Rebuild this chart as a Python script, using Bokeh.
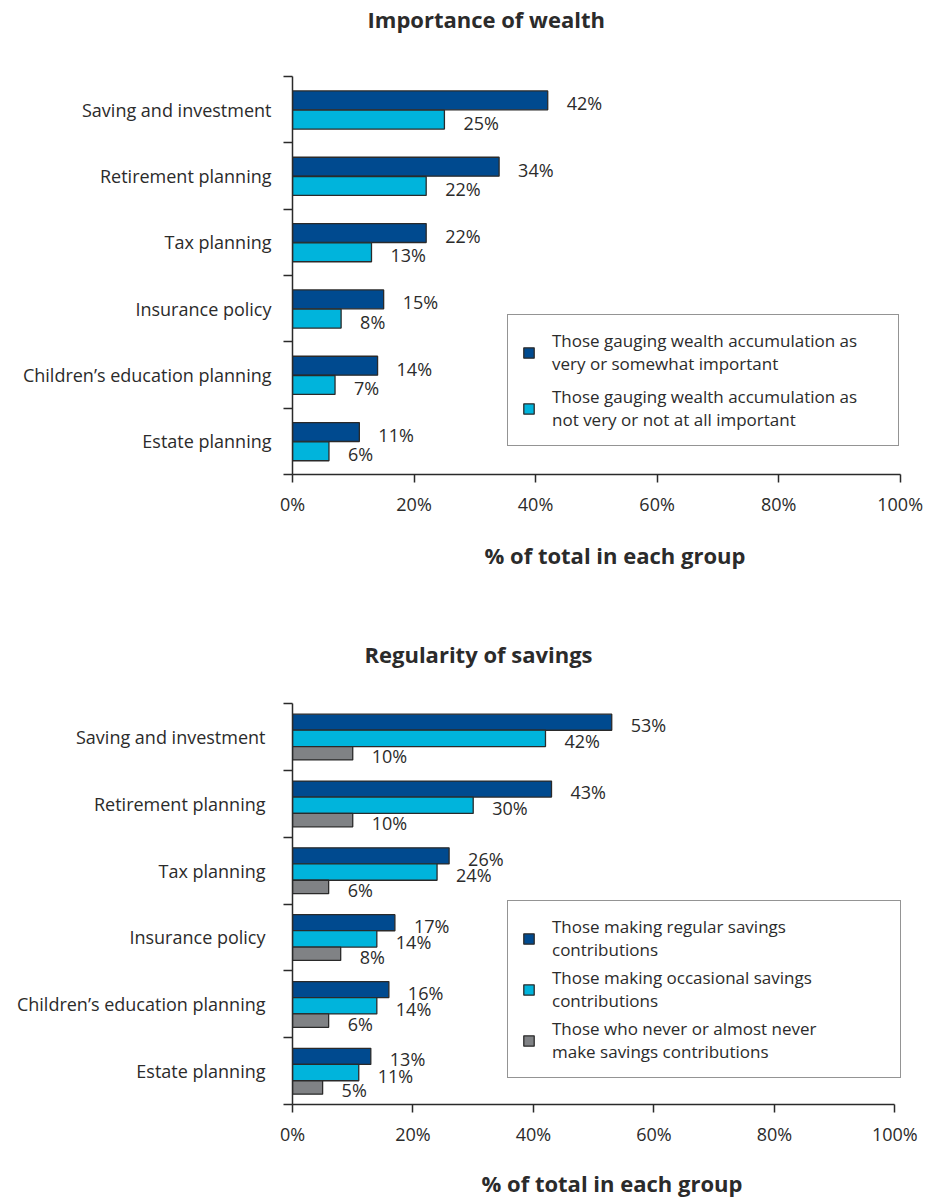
from bokeh.plotting import figure
from bokeh.models import (Range1d, FixedTicker, PrintfTickFormatter, Legend, LegendItem,
                          Title, LinearAxis)
from bokeh.layouts import column
from bokeh.core.properties import value
from bokeh.embed import file_html
from bokeh.resources import INLINE

# ---------------- data ----------------
categories = ["Saving and investment", "Retirement planning", "Tax planning",
              "Insurance policy", "Children\u2019s education planning", "Estate planning"]

wealth_important = [42, 34, 22, 15, 14, 11]
wealth_not_important = [25, 22, 13, 8, 7, 6]

savings_regular = [53, 43, 26, 17, 16, 13]
savings_occasional = [42, 30, 24, 14, 14, 11]
savings_never = [10, 10, 6, 8, 6, 5]

x_ticks = [0, 20, 40, 60, 80, 100]

title_top = "Importance of wealth"
title_bottom = "Regularity of savings"
x_title = "% of total in each group"

legend_top = ["Those gauging wealth accumulation as\nvery or somewhat important",
              "Those gauging wealth accumulation as\nnot very or not at all important"]
legend_bottom = ["Those making regular savings\ncontributions",
                 "Those making occasional savings\ncontributions",
                 "Those who never or almost never\nmake savings contributions"]

# ---------------- style ----------------
DARK = "#004A8F"
CYAN = "#00B4DC"
GREY = "#808285"
EDGE = "#2A2A2A"
TXT = "#2B2B2B"
FONT = "Open Sans"


def spacer(size):
    # an invisible axis used only to reserve vertical space in a side panel
    return LinearAxis(ticker=FixedTicker(ticks=[x_ticks[0]]), axis_line_color=None,
                      major_tick_line_color=None, minor_tick_line_color=None,
                      major_tick_out=size, major_tick_in=0, minor_tick_out=0,
                      minor_tick_in=0, major_label_standoff=0,
                      major_label_overrides={x_ticks[0]: ""},
                      major_label_text_font_size="1px", major_label_text_alpha=0)


def make_chart(title, series, width, height, borders, x_end, title_offset, title_space,
               xtitle_offset, xtitle_space, legend_loc, legend_spacing, label_width,
               ylabel_standoff):
    left, right, top, bottom = borders
    n = len(categories)
    p = figure(width=width, height=height, output_backend="svg", toolbar_location=None,
               x_range=Range1d(0, x_end), y_range=Range1d(0, n),
               min_border_left=left, min_border_right=right,
               min_border_top=top, min_border_bottom=bottom)
    p.outline_line_color = None
    p.xgrid.visible = False
    p.ygrid.visible = False
    p.background_fill_color = "white"
    p.border_fill_color = "white"

    items = []
    for vals, color, lab, off, h in series:
        ys = [n - 0.5 - i + off for i in range(n)]
        r = p.hbar(y=ys, right=vals, left=0, height=h, fill_color=color,
                   line_color=EDGE, line_width=1.3)
        p.text(x=vals, y=ys, text=[f"{v}%" for v in vals], x_offset=19, y_offset=3,
               text_baseline="middle", text_align="left", text_font=value(FONT),
               text_font_size="18px", text_color=TXT)
        items.append(LegendItem(label=lab, renderers=[r]))

    # x axis
    xa = p.xaxis[0]
    xa.ticker = FixedTicker(ticks=x_ticks)
    xa.bounds = (x_ticks[0], x_ticks[-1])
    xa.formatter = PrintfTickFormatter(format="%d%%")
    xa.axis_line_color = EDGE
    xa.axis_line_width = 1.5
    xa.major_tick_line_color = EDGE
    xa.major_tick_line_width = 1.5
    xa.major_tick_out = 8
    xa.major_tick_in = 0
    xa.minor_tick_line_color = None
    xa.major_label_text_font = FONT
    xa.major_label_text_font_size = "18px"
    xa.major_label_text_color = TXT
    xa.major_label_standoff = 9

    # y axis: labels at band centres, ticks at band boundaries
    ya = p.yaxis[0]
    centers = [n - 0.5 - i for i in range(n)]
    ya.ticker = FixedTicker(ticks=centers, minor_ticks=list(range(n + 1)))
    ya.major_label_overrides = {c: cat for c, cat in zip(centers, categories)}
    ya.axis_line_color = EDGE
    ya.axis_line_width = 1.5
    ya.major_tick_line_color = None
    ya.major_tick_out = 0
    ya.major_tick_in = 0
    ya.minor_tick_line_color = EDGE
    ya.minor_tick_line_width = 1.5
    ya.minor_tick_out = 9
    ya.minor_tick_in = 0
    ya.major_label_text_font = FONT
    ya.major_label_text_font_size = "18px"
    ya.major_label_text_color = TXT
    ya.major_label_standoff = ylabel_standoff

    # chart title (spacer pushes it up, away from the frame)
    p.add_layout(spacer(title_space), "above")
    p.title = Title(text=title, align="left", offset=title_offset, standoff=0,
                    vertical_align="top",
                    text_font=FONT, text_font_size="22px", text_font_style="bold",
                    text_color=TXT)

    # x-axis title below the tick labels
    p.add_layout(spacer(xtitle_space), "below")
    p.add_layout(Title(text=x_title, align="left", offset=xtitle_offset, standoff=0,
                       vertical_align="top",
                       text_font=FONT, text_font_size="22px", text_font_style="bold",
                       text_color=TXT), "below")

    leg = Legend(items=items, location=legend_loc, orientation="vertical",
                 padding=14, margin=0, spacing=legend_spacing,
                 glyph_width=13, glyph_height=13, label_standoff=17,
                 label_width=label_width,
                 label_text_font=FONT, label_text_font_size="17px",
                 label_text_color=TXT, label_text_line_height=1.3,
                 border_line_color=EDGE, border_line_width=1.5,
                 background_fill_color="white", background_fill_alpha=1.0)
    p.add_layout(leg)
    return p


p1 = make_chart(title_top,
                [(wealth_important, DARK, legend_top[0], 0.14, 0.285),
                 (wealth_not_important, CYAN, legend_top[1], -0.15, 0.285)],
                width=935, height=585, borders=(292, 25, 76, 111), x_end=101.7,
                title_offset=75, title_space=41,
                xtitle_offset=192, xtitle_space=21,
                legend_loc=(215, 28), legend_spacing=10, label_width=332,
                ylabel_standoff=12)

p2 = make_chart(title_bottom,
                [(savings_regular, DARK, legend_bottom[0], 0.22, 0.24),
                 (savings_occasional, CYAN, legend_bottom[1], -0.022, 0.245),
                 (savings_never, GREY, legend_bottom[2], -0.245, 0.2)],
                width=935, height=615, borders=(290, 25, 118, 96), x_end=102.6,
                title_offset=72, title_space=33,
                xtitle_offset=189, xtitle_space=19,
                legend_loc=(215, 26), legend_spacing=5, label_width=334,
                ylabel_standoff=18)

layout = column(p1, p2, spacing=0)
open("out.html", "w").write(file_html(layout, INLINE))
